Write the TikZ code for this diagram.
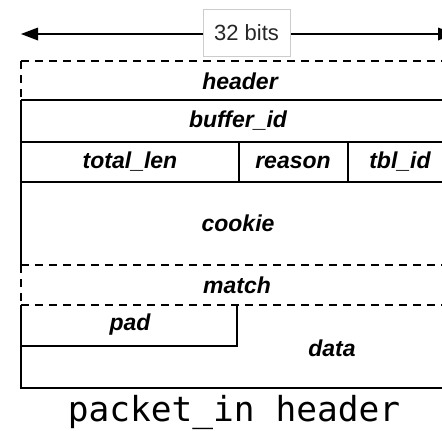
\documentclass[tikz,border=0pt]{standalone}
\usepackage{fontspec}
\setmainfont{Liberation Sans}
\newfontfamily\capfont{DejaVu Sans Mono}
\begin{document}
\begin{tikzpicture}[x=1pt,y=1pt,
  rule/.style={line width=2pt,draw=black},
  dashrule/.style={line width=1.8pt,draw=black,dash pattern=on 8pt off 6pt},
  field/.style={font=\fontsize{23}{26}\selectfont\bfseries\itshape,text=black,inner sep=0pt,anchor=center},
  widthlbl/.style={draw=black!20,fill=white,line width=0.8pt,font=\fontsize{22}{25}\selectfont,text=black!85,minimum width=87pt,minimum height=47pt,inner sep=0pt},
  caption/.style={font=\capfont\fontsize{34.5}{38}\selectfont,text=black,inner sep=0pt},
  dimline/.style={line width=1.8pt,draw=black},
  tiphead/.style={fill=black}]
\useasboundingbox (0,-431) rectangle (442,0);
\clip (0,-431) rectangle (442,0);
\fill[white] (0,-431) rectangle (442,0);
% width arrow
\coordinate (wl) at (21,-34);
\coordinate (wr) at (455,-34);
\draw[dimline] ([xshift=12pt]wl) -- ([xshift=-12pt]wr);
\fill[tiphead] (wl) -- ++(17,6.5) -- ++(0,-13) -- cycle;
\fill[tiphead] (wr) -- ++(-17,6.5) -- ++(0,-13) -- cycle;
\node[widthlbl] (bits) at (246.5,-32.5) {32 bits};
% table
\def\R{458}
\draw[dashrule] (21,-61) -- (\R,-61);
\draw[dashrule] (21,-61) -- (21,-100);
\draw[rule] (21,-100) -- (\R,-100);
\draw[rule] (21,-142) -- (\R,-142);
\draw[rule] (21,-182) -- (\R,-182);
\draw[rule] (239,-142) -- (239,-182);
\draw[rule] (348,-142) -- (348,-182);
\draw[rule] (21,-100) -- (21,-265);
\draw[dashrule] (21,-265) -- (\R,-265);
\draw[dashrule] (21,-265) -- (21,-305);
\draw[dashrule] (21,-305) -- (\R,-305);
\draw[rule] (21,-305) -- (21,-388) -- (\R,-388);
\draw[rule] (237,-305) -- (237,-346) -- (21,-346);
% labels
\node[field] (header) at (240,-81) {header};
\node[field] (buffer) at (238,-121) {buffer\_id};
\node[field] (total) at (130,-162) {total\_len};
\node[field] (reason) at (293,-162) {reason};
\node[field] (tbl) at (400,-162) {tbl\_id};
\node[field] (cookie) at (238,-223) {cookie};
\node[field] (match) at (237,-285) {match};
\node[field] (pad) at (130,-325) {pad};
\node[field] (data) at (332,-348) {data};
\node[caption] (cap) at (234,-412) {packet\_in header};
\end{tikzpicture}
\end{document}
